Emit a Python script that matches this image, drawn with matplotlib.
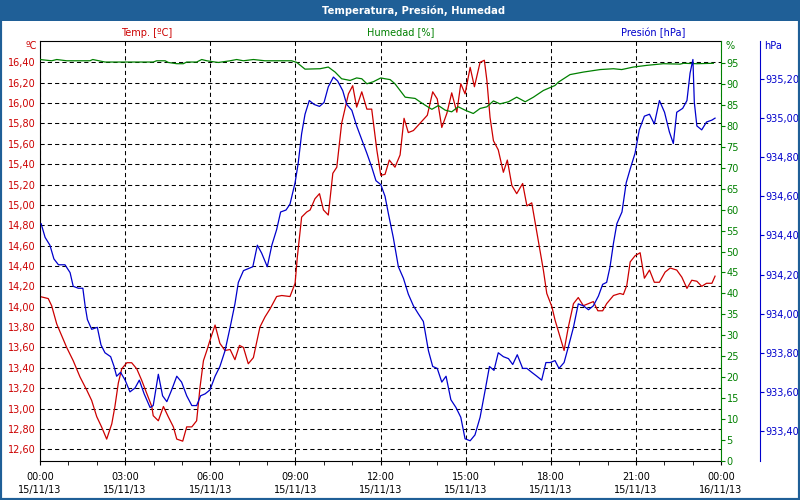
import matplotlib
matplotlib.use('Agg')
import matplotlib.pyplot as plt
from matplotlib.ticker import MultipleLocator, FuncFormatter
from matplotlib.patches import Rectangle

# horas desde 00:00 del 15/11/13
temp_h = [0.00, 0.29, 0.41, 0.59, 0.94, 1.17, 1.41, 1.65, 1.82, 2.00, 2.17, 2.35, 2.53, 2.64,
          2.76, 2.88, 3.06, 3.23, 3.41, 3.58, 3.76, 3.94, 3.99, 4.17, 4.35, 4.52, 4.70, 4.82,
          5.03, 5.17, 5.35, 5.52, 5.64, 5.76, 5.88, 5.99, 6.17, 6.34, 6.52, 6.70, 6.87, 7.03,
          7.17, 7.34, 7.52, 7.75, 7.93, 8.11, 8.34, 8.52, 8.81, 8.99, 9.07, 9.22, 9.40, 9.52,
          9.69, 9.85, 9.99, 10.16, 10.32, 10.46, 10.63, 10.87, 11.02, 11.16, 11.34, 11.52,
          11.69, 11.87, 12.01, 12.16, 12.31, 12.51, 12.69, 12.83, 12.98, 13.16, 13.39, 13.65,
          13.84, 14.00, 14.16, 14.34, 14.51, 14.69, 14.83, 14.98, 15.16, 15.31, 15.51, 15.66,
          15.75, 15.86, 15.98, 16.15, 16.33, 16.47, 16.63, 16.80, 17.01, 17.16, 17.33, 17.56,
          17.74, 17.86, 18.04, 18.15, 18.33, 18.47, 18.62, 18.80, 18.97, 19.15, 19.33, 19.50,
          19.66, 19.83, 19.97, 20.21, 20.44, 20.56, 20.68, 20.80, 20.97, 21.15, 21.30, 21.48,
          21.65, 21.83, 22.03, 22.21, 22.44, 22.62, 22.80, 22.97, 23.15, 23.32, 23.49, 23.68,
          23.79]
temp_c = [14.10, 14.08, 14.01, 13.83, 13.60, 13.47, 13.31, 13.18, 13.08, 12.92, 12.82, 12.70,
          12.85, 13.02, 13.25, 13.39, 13.45, 13.45, 13.39, 13.28, 13.15, 13.02, 12.93, 12.88,
          13.02, 12.92, 12.82, 12.70, 12.68, 12.82, 12.82, 12.88, 13.21, 13.47, 13.57, 13.67,
          13.82, 13.64, 13.57, 13.58, 13.48, 13.62, 13.60, 13.44, 13.50, 13.80, 13.90, 13.98,
          14.10, 14.11, 14.10, 14.23, 14.49, 14.88, 14.93, 14.95, 15.06, 15.11, 14.95, 14.90,
          15.31, 15.37, 15.80, 16.09, 16.17, 15.96, 16.11, 15.94, 15.94, 15.54, 15.29, 15.30,
          15.44, 15.37, 15.49, 15.85, 15.71, 15.73, 15.80, 15.88, 16.11, 16.04, 15.76, 15.90,
          16.10, 15.91, 16.19, 16.09, 16.35, 16.16, 16.40, 16.42, 16.22, 15.86, 15.63, 15.54,
          15.32, 15.44, 15.19, 15.11, 15.21, 14.99, 15.02, 14.65, 14.36, 14.13, 14.00, 13.87,
          13.70, 13.57, 13.80, 14.03, 14.09, 14.01, 14.03, 14.05, 13.96, 13.96, 14.03, 14.11,
          14.13, 14.12, 14.21, 14.44, 14.50, 14.53, 14.28, 14.36, 14.24, 14.24, 14.34, 14.38,
          14.36, 14.29, 14.18, 14.26, 14.25, 14.20, 14.23, 14.23, 14.30]

pres_h = [0.04, 0.18, 0.35, 0.49, 0.65, 0.88, 1.06, 1.17, 1.35, 1.51, 1.59, 1.67, 1.82, 2.02,
          2.15, 2.29, 2.49, 2.61, 2.70, 2.84, 3.00, 3.17, 3.35, 3.50, 3.67, 3.88, 3.99, 4.17,
          4.32, 4.47, 4.64, 4.82, 4.99, 5.17, 5.35, 5.52, 5.66, 5.82, 5.99, 6.17, 6.34, 6.52,
          6.70, 6.87, 6.99, 7.17, 7.34, 7.50, 7.66, 7.81, 8.01, 8.17, 8.34, 8.48, 8.67, 8.81,
          8.99, 9.10, 9.22, 9.34, 9.49, 9.66, 9.85, 10.01, 10.16, 10.34, 10.49, 10.67, 10.81,
          10.99, 11.16, 11.34, 11.52, 11.69, 11.84, 12.01, 12.16, 12.28, 12.45, 12.63, 12.81,
          12.98, 13.16, 13.33, 13.51, 13.69, 13.84, 14.00, 14.16, 14.31, 14.48, 14.66, 14.83,
          14.98, 15.16, 15.33, 15.51, 15.69, 15.84, 16.00, 16.15, 16.33, 16.51, 16.66, 16.82,
          17.01, 17.16, 17.33, 17.51, 17.68, 17.83, 17.98, 18.15, 18.29, 18.47, 18.62, 18.80,
          18.97, 19.15, 19.33, 19.50, 19.68, 19.83, 19.97, 20.09, 20.21, 20.33, 20.51, 20.66,
          20.80, 20.97, 21.12, 21.30, 21.48, 21.65, 21.83, 22.01, 22.18, 22.32, 22.44, 22.65,
          22.80, 22.91, 23.01, 23.06, 23.15, 23.32, 23.49, 23.68, 23.79]
pres_hpa = [934.46, 934.39, 934.35, 934.28, 934.25, 934.25, 934.21, 934.14, 934.13, 934.13,
            934.04, 933.97, 933.92, 933.93, 933.84, 933.80, 933.78, 933.73, 933.68, 933.70,
            933.66, 933.60, 933.62, 933.66, 933.59, 933.52, 933.53, 933.69, 933.58, 933.55,
            933.61, 933.68, 933.65, 933.58, 933.53, 933.53, 933.58, 933.59, 933.61, 933.68,
            933.73, 933.81, 933.93, 934.05, 934.16, 934.22, 934.23, 934.24, 934.35, 934.31,
            934.24, 934.35, 934.43, 934.52, 934.53, 934.56, 934.67, 934.77, 934.92, 935.02,
            935.09, 935.07, 935.06, 935.08, 935.16, 935.21, 935.19, 935.14, 935.07, 935.04,
            934.96, 934.89, 934.82, 934.75, 934.68, 934.66, 934.60, 934.51, 934.39, 934.24,
            934.18, 934.10, 934.04, 934.00, 933.96, 933.81, 933.73, 933.72, 933.65, 933.68,
            933.56, 933.52, 933.47, 933.36, 933.35, 933.38, 933.47, 933.61, 933.73, 933.71,
            933.80, 933.78, 933.77, 933.74, 933.79, 933.72, 933.72, 933.70, 933.68, 933.66,
            933.75, 933.75, 933.76, 933.72, 933.75, 933.83, 933.93, 934.05, 934.04, 934.02,
            934.04, 934.09, 934.15, 934.16, 934.24, 934.36, 934.46, 934.52, 934.67, 934.74,
            934.82, 934.94, 935.01, 935.02, 934.97, 935.09, 935.03, 934.93, 934.87, 935.03,
            935.05, 935.09, 935.23, 935.30, 935.08, 934.96, 934.94, 934.98, 934.99, 935.00]

hum_h = [0.00, 0.41, 0.59, 0.94, 1.76, 1.86, 2.29, 2.94, 3.99, 4.11, 4.41, 4.52, 4.82, 5.05,
         5.17, 5.52, 5.70, 5.88, 6.17, 6.29, 6.70, 6.93, 7.17, 7.52, 7.93, 8.87, 9.05, 9.34,
         9.87, 10.16, 10.40, 10.63, 10.93, 11.16, 11.34, 11.52, 11.75, 12.01, 12.16, 12.34,
         12.51, 12.87, 13.22, 13.39, 13.57, 13.81, 14.04, 14.28, 14.51, 14.74, 14.98, 15.27,
         15.51, 15.75, 15.98, 16.21, 16.51, 16.80, 17.10, 17.39, 17.74, 18.15, 18.27, 18.68,
         19.15, 19.74, 20.21, 20.50, 20.91, 21.38, 21.97, 22.56, 22.68, 23.15, 23.73]
hum_pct = [95.9, 95.6, 95.9, 95.6, 95.6, 95.9, 95.3, 95.3, 95.3, 95.6, 95.6, 95.2, 94.9, 94.9,
           95.3, 95.3, 95.9, 95.6, 95.3, 95.2, 95.6, 95.9, 95.6, 95.9, 95.6, 95.6, 95.2, 93.6,
           93.7, 94.1, 92.9, 91.3, 90.9, 91.5, 91.3, 90.1, 90.6, 91.5, 91.3, 91.1, 90.1, 86.9,
           86.6, 85.8, 85.0, 84.0, 84.9, 83.8, 83.4, 84.6, 83.8, 83.0, 84.2, 84.6, 86.0, 85.3,
           85.8, 86.9, 85.8, 86.9, 88.5, 89.7, 90.5, 92.3, 92.9, 93.5, 93.7, 93.5, 94.1, 94.5,
           94.9, 94.8, 95.0, 94.9, 95.0]

temp_ticks = [12.6, 12.8, 13.0, 13.2, 13.4, 13.6, 13.8, 14.0, 14.2, 14.4, 14.6, 14.8, 15.0,
              15.2, 15.4, 15.6, 15.8, 16.0, 16.2, 16.4]
pres_ticks = [933.4, 933.6, 933.8, 934.0, 934.2, 934.4, 934.6, 934.8, 935.0, 935.2]
x_labels = ['00:00\n15/11/13', '03:00\n15/11/13', '06:00\n15/11/13', '09:00\n15/11/13',
            '12:00\n15/11/13', '15:00\n15/11/13', '18:00\n15/11/13', '21:00\n15/11/13',
            '00:00\n16/11/13']

ROJO = '#cc0000'
VERDE = '#008000'
AZUL = '#0000cc'
MARCO = '#1f5f97'
FS = 7


def coma(v, pos):
    return ('%.2f' % v).replace('.', ',')


fig = plt.figure(figsize=(8, 5), dpi=100)

# barra de titulo y marco
fig.patches.append(Rectangle((0, 1 - 21 / 500), 1, 21 / 500, transform=fig.transFigure,
                             facecolor=MARCO, edgecolor='none', zorder=0))
fig.patches.append(Rectangle((0, 0), 1, 1, transform=fig.transFigure, fill=False,
                             edgecolor=MARCO, linewidth=3, zorder=0))
fig.text(414 / 800, 1 - 10.5 / 500, 'Temperatura, Presión, Humedad', color='white',
         fontsize=7.2, fontweight='bold', ha='center', va='center')

ax = fig.add_axes([40 / 800, 39.3 / 500, 681 / 800, 420 / 500])
ax.plot(temp_h, temp_c, color=ROJO, linewidth=0.9)
ax.set_xlim(0, 24)
ax.set_ylim(12.488, 16.612)
ax.set_yticks(temp_ticks)
ax.yaxis.set_major_formatter(FuncFormatter(coma))
ax.xaxis.set_minor_locator(MultipleLocator(1))
ax.set_xticks(range(0, 25, 3))
ax.set_xticklabels(x_labels, linespacing=1.45)
ax.grid(True, which='major', color='black', linestyle=(0, (4, 3)), linewidth=0.75)
ax.tick_params(axis='y', length=0, pad=3, labelcolor=ROJO, labelsize=FS)
ax.tick_params(axis='x', which='both', length=3, direction='out', labelsize=FS, pad=5)
ax.spines['right'].set_visible(False)

ax_h = ax.twinx()
ax_h.plot(hum_h, hum_pct, color=VERDE, linewidth=0.9)
ax_h.set_ylim(0, 100.4)
ax_h.set_yticks(range(0, 96, 5))
ax_h.tick_params(axis='y', colors=VERDE, length=3, pad=1, labelsize=FS)
for s in ['top', 'bottom', 'left']:
    ax_h.spines[s].set_visible(False)
ax_h.spines['right'].set_color(VERDE)

ax_p = ax.twinx()
ax_p.plot(pres_h, pres_hpa, color=AZUL, linewidth=0.9)
ax_p.set_ylim(933.248, 935.396)
ax_p.set_yticks(pres_ticks)
ax_p.yaxis.set_major_formatter(FuncFormatter(coma))
ax_p.spines['right'].set_position(('axes', 720 / 681))
ax_p.tick_params(axis='y', colors=AZUL, length=3, pad=1, labelsize=FS)
for s in ['top', 'bottom', 'left']:
    ax_p.spines[s].set_visible(False)
ax_p.spines['right'].set_color(AZUL)

# titulos de ejes
fig.text(147 / 800, 1 - 32.5 / 500, 'Temp. [ºC]', color=ROJO, fontsize=FS, ha='center', va='center')
fig.text(401 / 800, 1 - 32.5 / 500, 'Humedad [%]', color=VERDE, fontsize=FS, ha='center', va='center')
fig.text(653 / 800, 1 - 32.5 / 500, 'Presión [hPa]', color=AZUL, fontsize=FS, ha='center', va='center')
fig.text(37 / 800, 1 - 46 / 500, 'ºC', color=ROJO, fontsize=FS, ha='right', va='center')
fig.text(725 / 800, 1 - 46 / 500, '%', color=VERDE, fontsize=FS, ha='left', va='center')
fig.text(764 / 800, 1 - 46 / 500, 'hPa', color=AZUL, fontsize=FS, ha='left', va='center')

fig.savefig('out.png', dpi=100)
